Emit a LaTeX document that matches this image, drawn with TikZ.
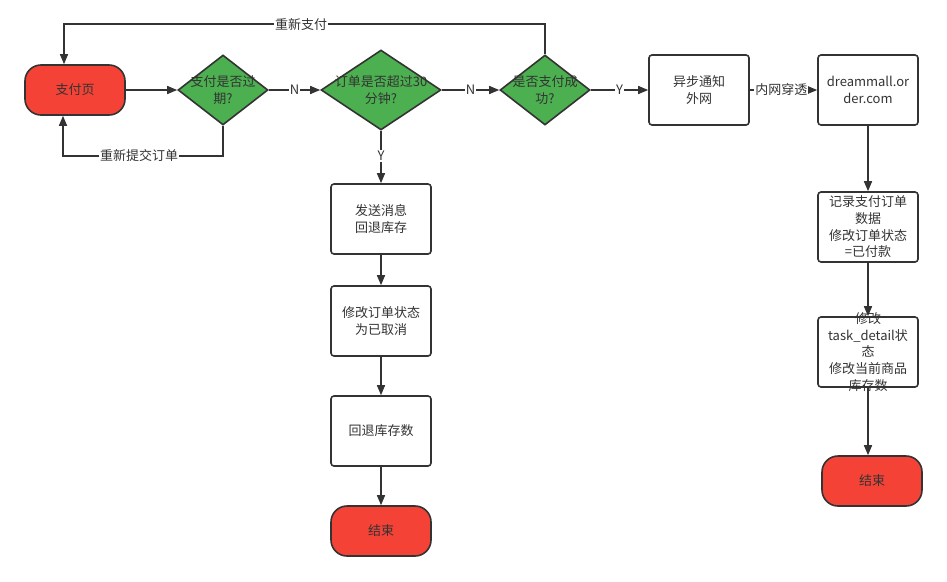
\documentclass[tikz,border=0pt]{standalone}
\usepackage{fontspec}
\setmainfont{Noto Sans CJK SC}
\usetikzlibrary{shapes.geometric,arrows.meta}
\definecolor{ln}{HTML}{333333}
\definecolor{termred}{HTML}{F44336}
\definecolor{decgreen}{HTML}{4CAF50}
\tikzset{
  base/.style={draw=ln, line width=1.6pt, text=ln, font=\fontsize{13}{16.7}\selectfont, align=center},
  term/.style={base, rounded corners=16pt, fill=termred, minimum width=100pt, minimum height=50pt, inner sep=0pt},
  proc/.style={base, rounded corners=3pt, fill=white, minimum width=100pt, minimum height=70pt, inner sep=0pt},
  dec/.style={base, diamond, fill=decgreen, inner sep=0pt, text width=0pt},
  txt/.style={text=ln, font=\fontsize{13}{16.7}\selectfont, align=center, inner sep=0pt},
  conn/.style={draw=ln, line width=1.5pt, -{Triangle[length=10pt,width=8pt]}},
  lbl/.style={fill=white, text=ln, font=\fontsize{13}{15}\selectfont, inner sep=1pt}
}
\begin{document}
\begin{tikzpicture}[x=1pt,y=-1pt]
\useasboundingbox (0,0) rectangle (947,581);
% nodes
\node[term] (pay) at (75,90) {支付页};
\node[dec, minimum width=90pt, minimum height=70pt] (d1) at (223,90) {};
\node[txt] (d1t) at (223,90) {支付是否过\\期?};
\node[dec, minimum width=120pt, minimum height=80pt] (d2) at (381,90) {};
\node[txt] (d2t) at (381,90) {订单是否超过30\\分钟?};
\node[dec, minimum width=90pt, minimum height=70pt] (d3) at (545,90) {};
\node[txt] (d3t) at (545,90) {是否支付成\\功?};
\node[proc] (notify) at (699,90) {异步通知\\外网};
\node[proc] (dm) at (868,90) {dreammall.or\\der.com};
\node[proc] (rec) at (868,227) {记录支付订单\\数据\\修改订单状态\\=已付款};
\node[proc] (task) at (868,352) {};
\node[txt] (taskt) at (868,352) {修改\\task\_detail状\\态\\修改当前商品\\库存数};
\node[term] (endr) at (872,481) {结束};
\node[proc] (msg) at (381,219) {发送消息\\回退库存};
\node[proc] (cancel) at (381,321) {修改订单状态\\为已取消};
\node[proc] (stock) at (381,431) {回退库存数};
\node[term] (endl) at (381,531) {结束};
% connectors
\draw[conn] (pay) -- (d1);
\draw[conn] (d1) -- node[lbl] {N} (d2);
\draw[conn] (d2) -- node[lbl] {N} (d3);
\draw[conn] (d3) -- node[lbl] {Y} (notify);
\draw[conn] (notify) -- node[lbl, pos=0.47] {内网穿透} (dm);
\draw[conn] (dm) -- (rec);
\draw[conn] (rec) -- (task);
\draw[conn] (task.south) -- (task.south |- endr.north);
\draw[conn] (d2) -- node[lbl, pos=0.48] {Y} (msg);
\draw[conn] (msg) -- (cancel);
\draw[conn] (cancel) -- (stock);
\draw[conn] (stock) -- (endl);
\draw[conn] (d1.south) -- ++(0,30) -- node[lbl, pos=0.525] {重新提交订单} ++(-160,0) -- ([xshift=-12pt]pay.south);
\draw[conn] (d3.north) -- ++(0,-30) -- node[lbl, pos=0.507] {重新支付} ++(-481,0) -- ([xshift=-11pt]pay.north);
\end{tikzpicture}
\end{document}
